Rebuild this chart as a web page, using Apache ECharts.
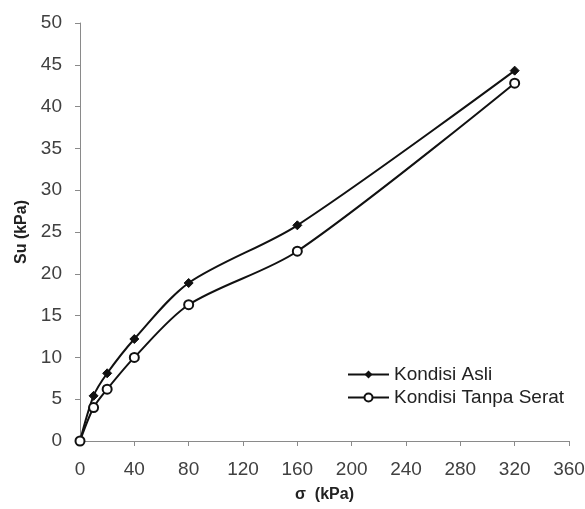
<!DOCTYPE html>
<html><head><meta charset="utf-8">
<script src="https://cdn.jsdelivr.net/npm/echarts@6/dist/echarts.min.js"></script>
<style>html,body{margin:0;padding:0;background:#fff}#c{width:585px;height:509px}</style>
</head><body><div id="c"></div>
<script>
const sigma = [0, 10, 20, 40, 80, 160, 320];
const kondisiAsli = [0, 5.4, 8.1, 12.2, 18.9, 25.8, 44.3];
const kondisiTanpaSerat = [0, 4.0, 6.2, 10.0, 16.3, 22.7, 42.8];
const seriesNames = ['Kondisi Asli', 'Kondisi Tanpa Serat'];
const xTitle = 'σ  (kPa)';
const yTitle = 'Su (kPa)';

const FONT = 'Liberation Sans';
const chart = echarts.init(document.getElementById('c'));
const pairs = (ys) => sigma.map((x, i) => [x, ys[i]]);
chart.setOption({
  animation: false,
  backgroundColor: '#fff',
  grid: { left: 80, right: 16, top: 23, bottom: 68, containLabel: false, outerBoundsMode: 'none' },
  legend: {
    left: 342, top: 360, orient: 'vertical', itemGap: 4,
    itemWidth: 41, itemHeight: 10,
    textStyle: { fontFamily: FONT, fontSize: 19, color: '#222' },
    data: seriesNames
  },
  xAxis: {
    type: 'value', min: 0, max: 360, interval: 40,
    name: xTitle, nameLocation: 'middle', nameGap: 46,
    nameTextStyle: { fontFamily: FONT, fontSize: 16, fontWeight: 'bold', color: '#222' },
    axisLine: { lineStyle: { color: '#8a8a8a' } },
    axisTick: { show: true, length: 5, lineStyle: { color: '#8a8a8a' } },
    axisLabel: { fontFamily: FONT, fontSize: 19, color: '#404040', margin: 19 },
    splitLine: { show: false }
  },
  yAxis: {
    type: 'value', min: 0, max: 50, interval: 5,
    name: yTitle, nameLocation: 'middle', nameGap: 50,
    nameTextStyle: { fontFamily: FONT, fontSize: 16, fontWeight: 'bold', color: '#222' },
    axisLine: { show: true, lineStyle: { color: '#8a8a8a' } },
    axisTick: { show: true, length: 5, lineStyle: { color: '#8a8a8a' } },
    axisLabel: { fontFamily: FONT, fontSize: 19, color: '#404040', margin: 18 },
    splitLine: { show: false }
  },
  series: [
    {
      name: seriesNames[0], type: 'line', smooth: 0.3,
      data: pairs(kondisiAsli),
      symbol: 'diamond', symbolSize: 9,
      lineStyle: { color: '#111', width: 2 },
      itemStyle: { color: '#111', borderColor: '#111' }
    },
    {
      name: seriesNames[1], type: 'line', smooth: 0.3,
      data: pairs(kondisiTanpaSerat),
      symbol: 'circle', symbolSize: 9,
      lineStyle: { color: '#111', width: 2 },
      itemStyle: { color: '#fff', borderColor: '#111', borderWidth: 2 }
    }
  ]
});
</script></body></html>
